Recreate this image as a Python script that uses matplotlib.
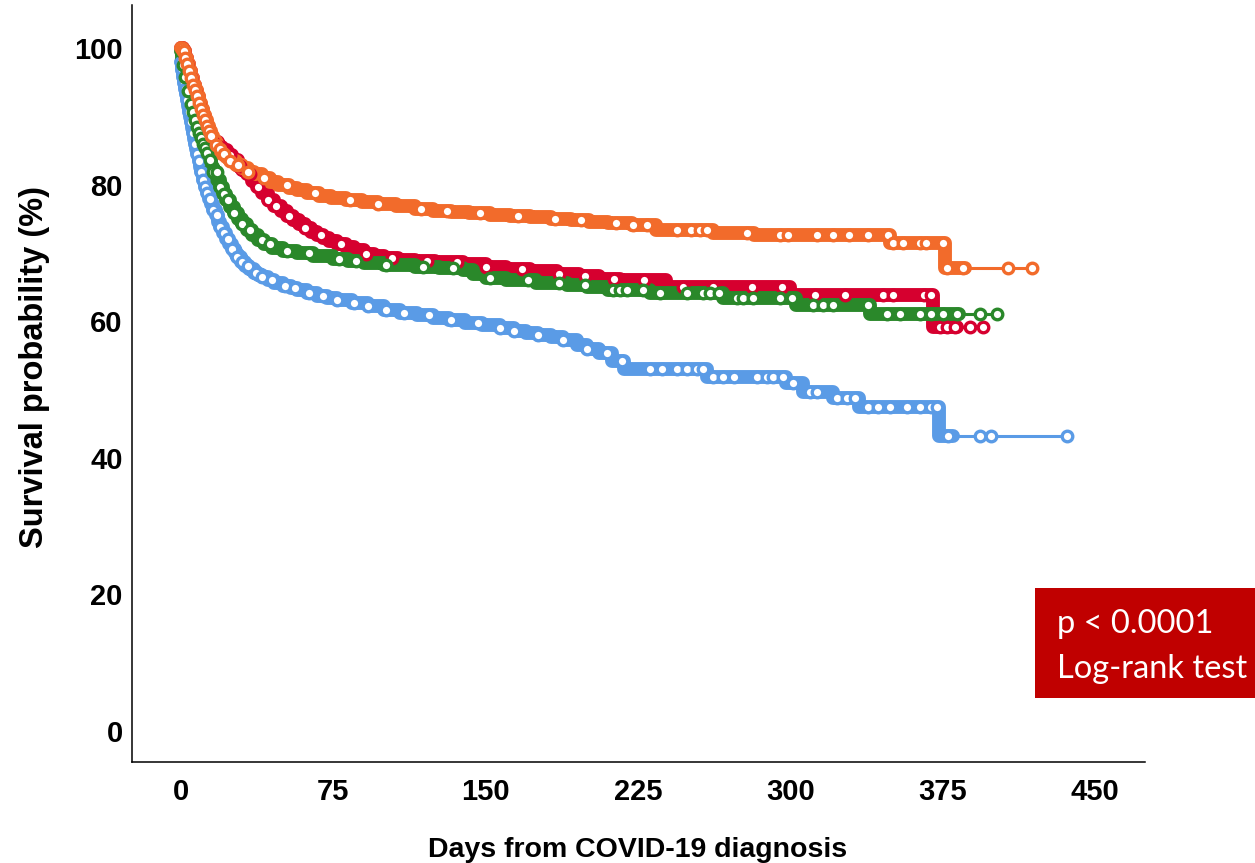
import numpy as np
import matplotlib.pyplot as plt
from matplotlib.patches import Rectangle

# Kaplan-Meier step knots: (day, survival %) after each drop
orange_t = [0, 1, 2, 3, 4, 5, 6, 7, 8, 9, 10, 11, 12, 13, 14, 15, 16, 17, 18, 20, 22, 24, 27,
            30, 33, 36, 40, 44, 48, 53, 57, 62, 68, 74, 81, 89, 97, 106, 115, 124, 133, 142,
            152, 162, 172, 182, 192, 201, 210, 222, 234, 262, 282, 349, 376]
orange_s = [100, 99.6, 98.6, 97.6, 96.6, 95.6, 94.6, 93.8, 93.0, 92.0, 91.1, 90.2, 89.4, 88.6,
            87.8, 87.1, 86.4, 85.8, 85.2, 84.5, 84.0, 83.5, 82.9, 82.4, 81.9, 81.5, 81.0, 80.4,
            79.9, 79.5, 79.2, 78.8, 78.4, 78.0, 77.7, 77.4, 77.1, 76.8, 76.5, 76.2, 76.0, 75.8,
            75.6, 75.4, 75.2, 75.0, 74.8, 74.6, 74.4, 74.1, 73.4, 72.9, 72.6, 71.5, 67.8]
orange_end = 419
orange_cens = [0, 0.5, 1, 1.5, 2, 3, 4, 5, 6, 7, 8, 9, 10, 11, 12, 13, 14, 15, 17, 19, 21, 24,
               28, 33, 41, 52, 66, 83, 97, 118, 131, 147, 166, 184, 197, 214, 222.5, 229.5, 244,
               251, 255.5, 259, 278.7, 295, 299, 313, 321, 329, 338, 348, 350.5, 355.5, 364, 367,
               375, 377, 385, 407, 419]

red_t = [0, 1, 2, 3, 4, 5, 6, 7, 8, 9, 10, 11, 12, 13, 14, 15, 16, 18, 20, 22.6, 25, 28, 30,
         32.5, 35, 37.5, 40, 43, 46, 49, 52, 55, 58, 61, 64, 67, 70, 73, 77, 81, 85, 90, 95,
         100, 107, 115, 125, 139, 150, 160, 172, 185, 196, 206, 216, 239, 300, 370]
red_s = [100, 99.5, 98.6, 97.6, 96.6, 95.6, 94.6, 93.7, 92.8, 91.8, 90.9, 90.0, 89.1, 88.3,
         87.5, 86.8, 86.2, 85.5, 85.0, 84.4, 83.6, 82.8, 82.2, 81.6, 80.6, 79.7, 78.8, 77.8,
         76.9, 76.1, 75.4, 74.8, 74.2, 73.6, 73.1, 72.6, 72.2, 71.8, 71.3, 70.8, 70.4, 69.9,
         69.5, 69.2, 69.0, 68.8, 68.6, 68.4, 68.0, 67.7, 67.3, 66.9, 66.6, 66.2, 66.0, 65.0,
         63.8, 59.2]
red_end = 395
red_cens = [0.5, 1.5, 3, 5, 7, 9, 11, 13, 16, 19, 21, 24, 29, 34, 38, 43, 47, 53, 61, 69, 79,
            91, 104, 121, 136, 150, 168, 186, 199, 213, 228, 247, 262, 281, 296, 312, 327,
            345.6, 350.6, 366, 369, 373.7, 377, 381, 388.5, 395]

green_t = [0, 0.5, 1, 1.5, 2, 2.5, 3, 3.5, 4.4, 5, 6, 7, 8, 9, 10, 11, 12, 13, 14, 15, 16,
           17.7, 19, 20.5, 22, 24, 26, 28, 30, 32.5, 35, 38, 41, 45, 50, 57, 65, 75, 82, 90,
           100, 115, 127, 139, 144, 150, 160, 175, 190, 200, 210, 231, 267, 303, 339]
green_s = [99.5, 98.5, 97.5, 96.5, 95.7, 95.0, 94.3, 93.7, 92.8, 91.8, 90.6, 89.5, 88.4, 87.6,
           86.8, 86.0, 85.3, 84.6, 83.6, 82.6, 81.8, 80.7, 79.6, 78.6, 77.8, 76.7, 75.8, 75.0,
           74.3, 73.4, 72.6, 71.9, 71.3, 70.7, 70.3, 70.0, 69.5, 69.1, 68.8, 68.5, 68.3, 68.0,
           67.8, 67.5, 66.9, 66.4, 66.0, 65.6, 65.3, 65.0, 64.6, 64.1, 63.4, 62.4, 61.0]
green_end = 402
green_cens = [0, 1, 2, 3.5, 5, 6, 7, 8, 9, 10, 11, 12, 13, 14.5, 16, 17.5, 19, 21, 23, 26, 30,
              34, 40, 44, 52, 63, 78, 86, 101, 119, 134, 152, 171, 186, 199, 212.7, 216, 219.6,
              227.5, 236, 249, 257, 260.6, 265, 273.7, 276.7, 281.6, 295, 301, 311, 316, 321,
              338, 347.6, 354, 364, 369, 375, 382, 393.4, 401.8]

blue_t = [0, 0.5, 1, 1.5, 2, 2.5, 3, 3.5, 4, 4.5, 5, 5.5, 6, 6.5, 7, 7.5, 8, 8.7, 9.4, 10, 11,
          12, 13, 14, 15, 16, 17, 18, 19, 20.5, 22, 23.5, 25, 26.5, 27.6, 29.5, 31.5, 33.5, 36,
          38, 40, 43, 46, 50, 54, 57, 62, 67, 72, 77, 84, 92, 100, 108, 116, 124, 132, 140, 148,
          157, 164, 170, 176, 182, 188, 195, 200, 206, 212, 218, 259, 298, 306, 321, 334, 373]
blue_s = [98, 96.8, 95.8, 94.9, 94.0, 93.2, 92.4, 91.5, 90.7, 89.9, 89.1, 88.3, 87.5, 86.7,
          85.9, 85.2, 84.5, 83.5, 82.6, 81.8, 80.7, 79.7, 78.8, 77.9, 77.1, 76.3, 75.5, 74.6,
          73.8, 72.9, 72.1, 71.3, 70.6, 70.0, 69.4, 68.7, 68.1, 67.6, 67.1, 66.8, 66.5, 66.0,
          65.6, 65.2, 64.8, 64.6, 64.1, 63.7, 63.4, 63.1, 62.7, 62.2, 61.7, 61.2, 60.9, 60.5,
          60.2, 59.8, 59.4, 59.0, 58.6, 58.3, 58.0, 57.7, 57.2, 56.5, 56.0, 55.3, 54.2, 53.0,
          51.8, 50.9, 49.6, 48.7, 47.4, 43.2]
blue_end = 436
blue_cens = [0, 0.5, 1, 1.5, 2, 2.5, 3, 4, 5, 6, 7, 8, 9, 10, 11, 12, 13, 14.5, 16, 17.5, 19,
             21, 23, 25, 27.6, 30, 33, 37, 40, 45, 51, 56, 63, 70, 77, 85, 92, 101, 110, 122,
             133, 146, 157, 164, 176, 188, 200, 209.7, 217, 231, 237, 244, 249, 254, 257, 262,
             267, 272, 283.6, 288.5, 291.5, 296.4, 301.3, 309.7, 313, 323, 328, 332, 338, 343,
             349, 357.5, 364, 369, 372, 377.6, 393.4, 399, 436]

# censoring is so dense up to these days that the marks merge into a band
orange_dense = 386
red_dense = 382
green_dense = 383
blue_dense = 380

x_ticks = [0, 75, 150, 225, 300, 375, 450]
y_ticks = [0, 20, 40, 60, 80, 100]

curves = [
    (blue_t, blue_s, blue_end, blue_cens, blue_dense, '#5A9BE6'),
    (red_t, red_s, red_end, red_cens, red_dense, '#D6002F'),
    (green_t, green_s, green_end, green_cens, green_dense, '#2A882A'),
    (orange_t, orange_s, orange_end, orange_cens, orange_dense, '#F26B2B'),
]

fig = plt.figure(figsize=(12.55, 8.63), dpi=100)
ax = fig.add_axes([0.1052, 0.117, 0.8072, 0.8772])

for t, s, end, cens, dense, color in curves:
    t = np.array(t, dtype=float)
    s = np.array(s, dtype=float)
    # thin step line over the full follow-up
    xs = np.append(t, end)
    ys = np.append(s, s[-1])
    ax.plot(xs, ys, drawstyle='steps-post', color=color, lw=2.2, zorder=2)
    # thick band where censor marks overlap
    keep = t < dense
    xb = np.append(t[keep], dense)
    yb = np.append(s[keep], s[keep][-1])
    ax.plot(xb, yb, drawstyle='steps-post', color=color, lw=10,
            solid_capstyle='round', solid_joinstyle='round', zorder=2)
    # censor marks
    c = np.array(cens, dtype=float)
    idx = np.searchsorted(t, c, side='right') - 1
    ax.plot(c, s[idx], ls='none', marker='o', ms=7.6, mew=2.4,
            mec=color, mfc='white', zorder=3)

ax.set_xlim(-24.1, 474.6)
ax.set_ylim(-4.54, 106.3)
ax.set_xticks(x_ticks)
ax.set_yticks(y_ticks)
ax.tick_params(length=0)
ax.tick_params(axis='x', pad=11.5)
ax.tick_params(axis='y', pad=6.7)
for lab in ax.get_xticklabels() + ax.get_yticklabels():
    lab.set_fontfamily('Liberation Sans')
    lab.set_fontweight('bold')
    lab.set_fontsize(21)
for side in ['top', 'right']:
    ax.spines[side].set_visible(False)
for side in ['left', 'bottom']:
    ax.spines[side].set_linewidth(1.1)

fig.text(0.5 * (428 + 848) / 1255, 1 - 857 / 863, 'Days from COVID-19 diagnosis',
         ha='center', va='baseline', family='Liberation Sans', weight='bold', fontsize=20.5)
fig.text(35 / 1255, 1 - 367 / 863, 'Survival probability (%)', rotation=90,
         ha='center', va='center', family='Liberation Sans', weight='bold', fontsize=23.5)

# log-rank annotation box
fig.patches.append(Rectangle((1035 / 1255, 1 - 698 / 863), 220 / 1255, 110 / 863,
                             transform=fig.transFigure, facecolor='#C00000',
                             edgecolor='none', zorder=5))
fig.text(1057 / 1255, 1 - 633 / 863, 'p < 0.0001', color='white', family='Lato',
         fontsize=23.5, ha='left', va='baseline', zorder=6)
fig.text(1057 / 1255, 1 - 678 / 863, 'Log-rank test', color='white', family='Lato',
         fontsize=23.5, ha='left', va='baseline', zorder=6)

fig.savefig('out.png', dpi=100)
